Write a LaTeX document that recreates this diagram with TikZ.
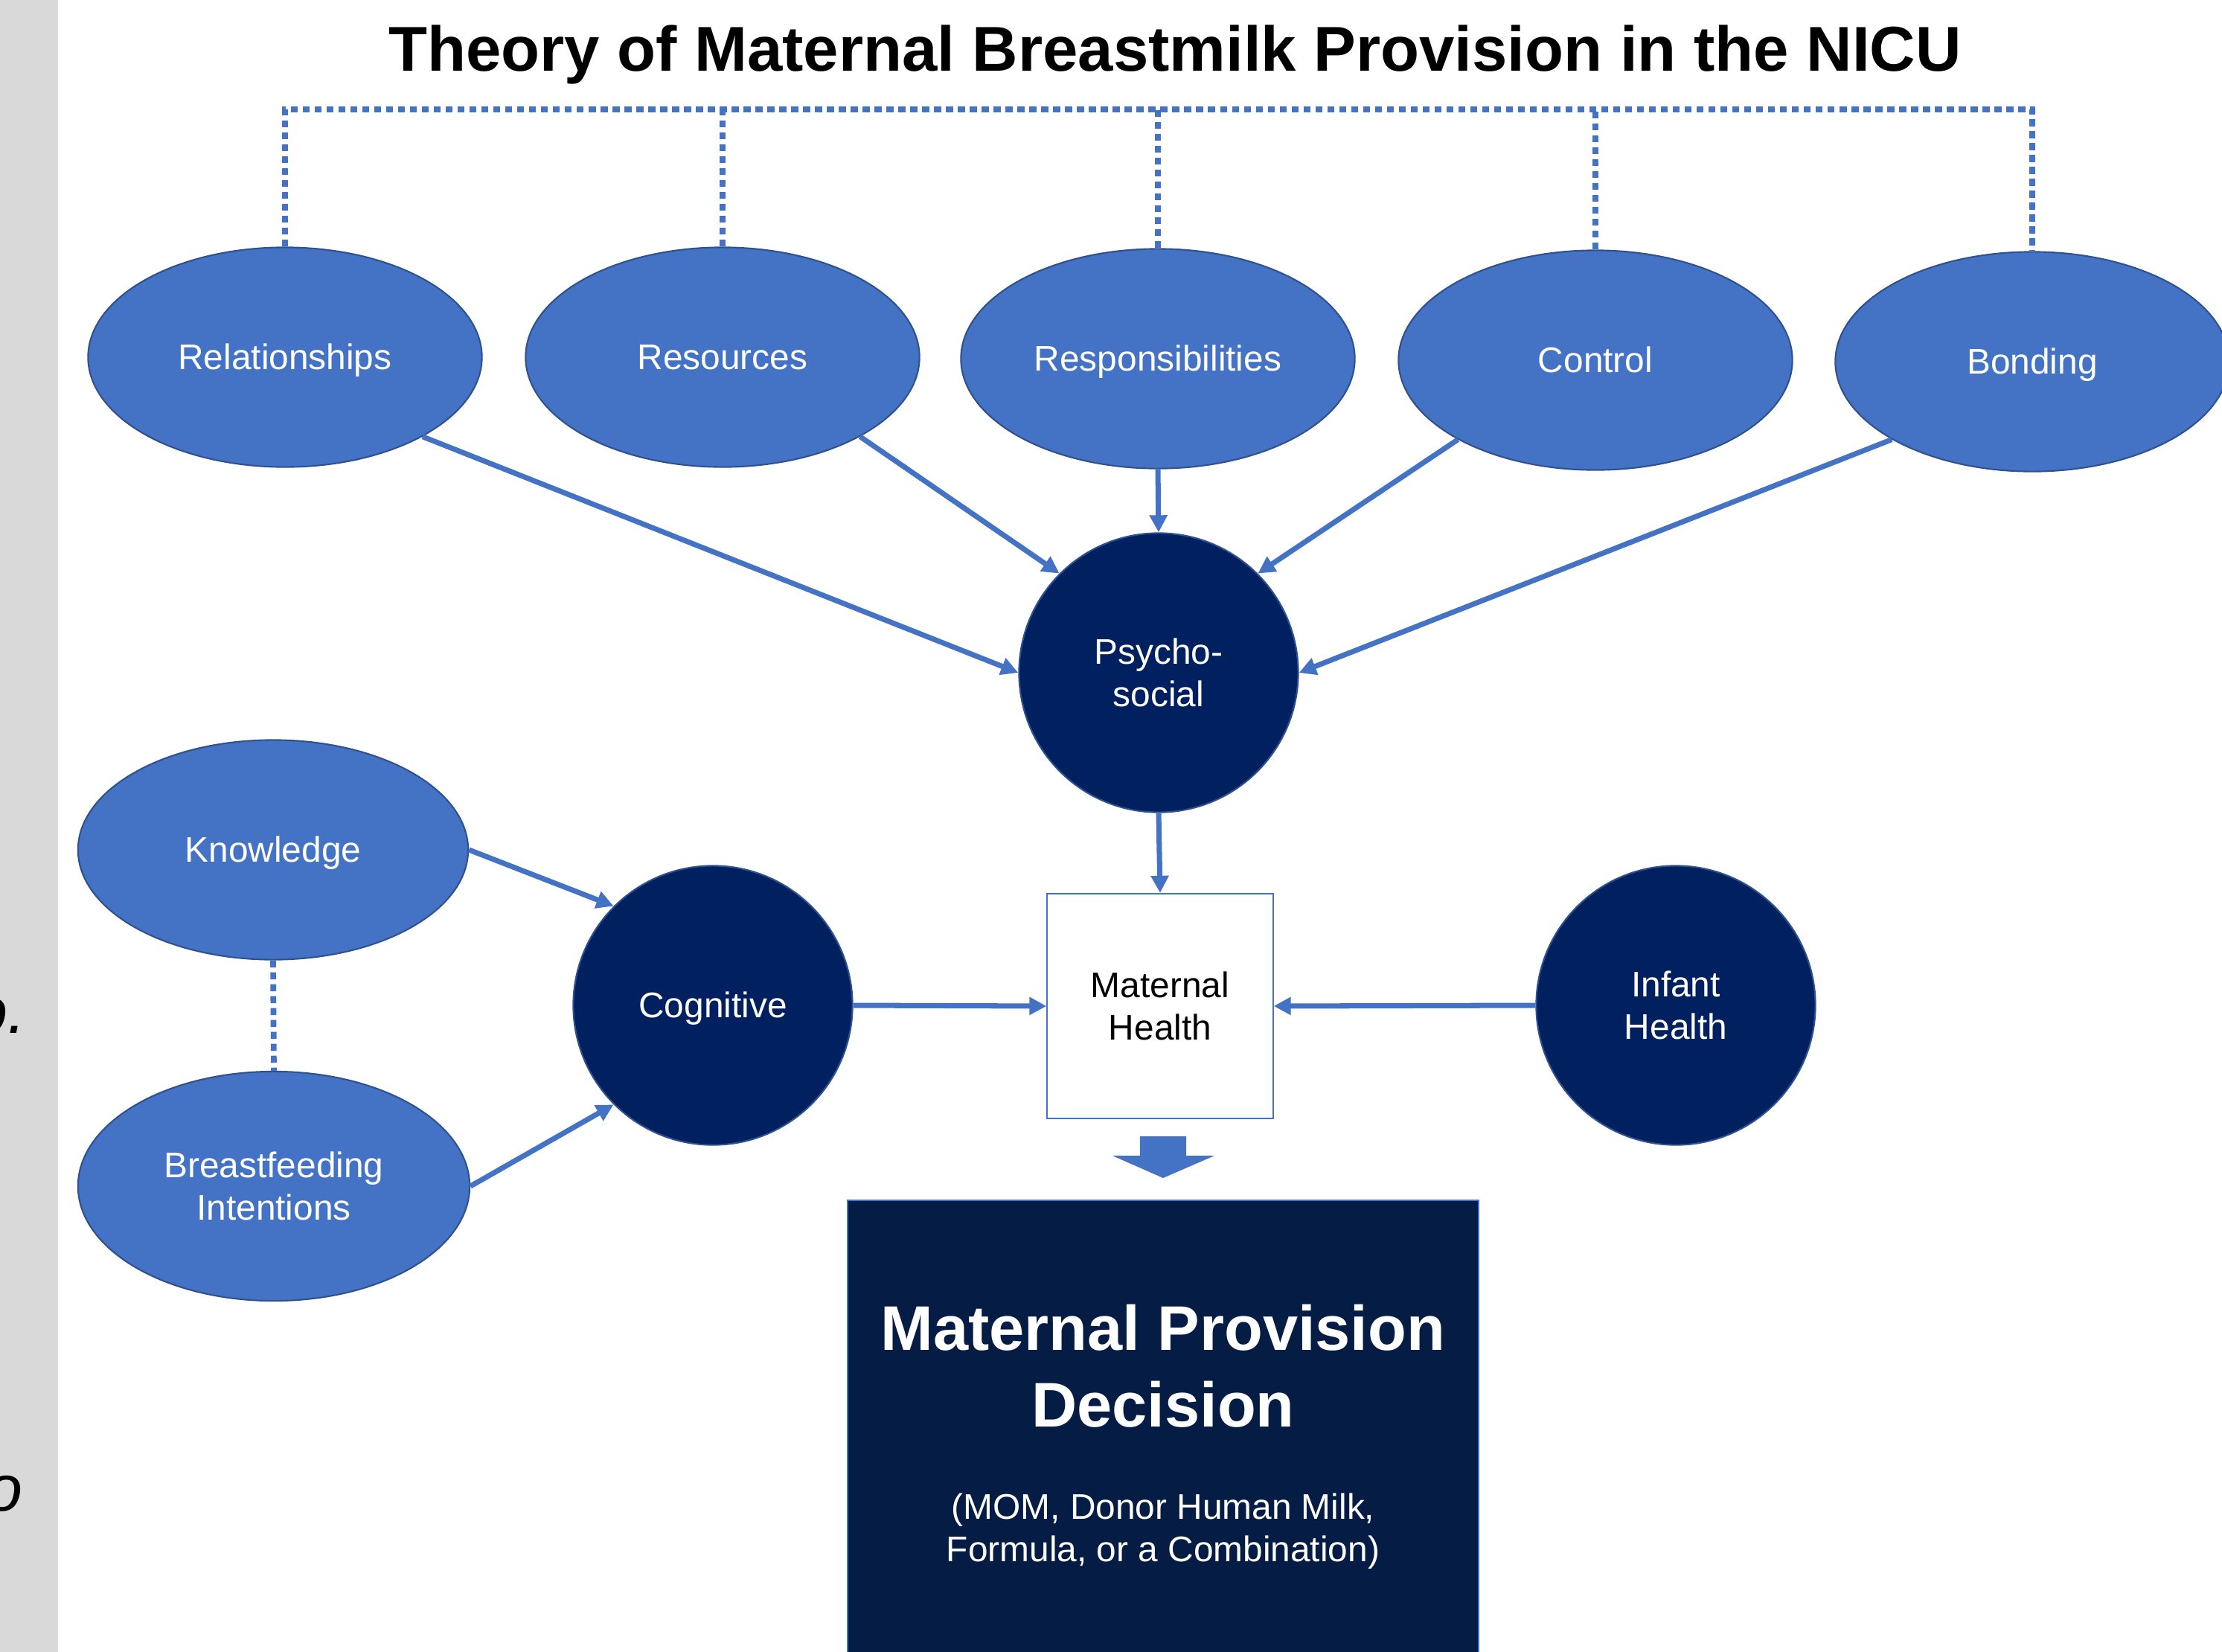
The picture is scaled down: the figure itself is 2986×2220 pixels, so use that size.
\documentclass[tikz,border=0pt]{standalone}
\usepackage{fontspec}
\setmainfont{Liberation Sans}
\usetikzlibrary{arrows.meta,shapes.geometric}
\definecolor{eblue}{HTML}{4472C4}
\definecolor{eborder}{HTML}{2F528F}
\definecolor{navy}{HTML}{002060}
\definecolor{decnavy}{HTML}{051D45}
\definecolor{bargray}{HTML}{D9D9D9}
\begin{document}
\begin{tikzpicture}[x=0.01cm,y=-0.01cm,
  lbl/.style={font=\fontsize{13.6}{16.2}\selectfont, align=center},
  oneline/.style={text height=0.97em, text depth=0.03em},
  oval/.style={ellipse, fill=eblue, draw=eborder, line width=0.6pt, text=white,
               inner sep=0pt, minimum width=5.29cm, minimum height=2.95cm, lbl},
  disc/.style={circle, fill=navy, draw=eborder, line width=0.6pt, text=white,
               inner sep=0pt, minimum size=3.75cm, lbl},
  conn/.style={draw=eblue, line width=2pt, -{Triangle[length=0.23cm,width=0.23cm]}},
  dotline/.style={draw=eblue, line width=2.2pt, dash pattern=on 0.095cm off 0.065cm},
  frag/.style={font=\fontsize{25}{30}\selectfont\itshape, text=black, inner sep=0pt, anchor=base east},
]
\useasboundingbox (0,0) rectangle (2986,2220);
\clip (0,0) rectangle (2986,2220);

% left grey strip with cut-off text
\fill[bargray] (0,0) rectangle (78,2220);
\node[frag] (fragA) at (36,1388) {o.};
\node[frag] (fragB) at (31,2030) {o};

% title
\node[font=\fontsize{24.2}{29}\selectfont\bfseries, anchor=base, inner sep=0pt] (title)
  at (1579,95) {Theory of Maternal Breastmilk Provision in the NICU};

% top ellipses
\node[oval, oneline] (rel)  at (383,480)  {Relationships};
\node[oval, oneline] (res)  at (971,480)  {Resources};
\node[oval, oneline] (resp) at (1556,482) {Responsibilities};
\node[oval, oneline] (ctl)  at (2144,484) {Control};
\node[oval, oneline] (bond) at (2731,486) {Bonding};

% dotted bracket
\coordinate (bar) at (0,147);
\draw[dotline] (rel.north) -- (rel.north |- bar) -- (bond.north |- bar) -- (bond.north);
\draw[dotline] (res.north) -- (res.north |- bar);
\draw[dotline] (resp.north) -- (resp.north |- bar);
\draw[dotline] (ctl.north) -- (ctl.north |- bar);

% circles
\node[disc] (psy) at (1557,904)  {Psycho-\\social};
\node[disc, oneline] (cog) at (958,1351)  {Cognitive};
\node[disc] (inf) at (2252,1351) {Infant\\Health};

% left ellipses
\node[oval, oneline, minimum width=5.24cm, minimum height=2.95cm] (know) at (367,1142) {Knowledge};
\node[oval, minimum width=5.26cm, minimum height=3.08cm] (bfi) at (368,1594) {Breastfeeding\\Intentions};
\draw[dotline] (know.south) -- (bfi.north);

% maternal health box
\node[draw=eblue, line width=0.6pt, fill=white, minimum width=3.03cm, minimum height=3.02cm,
      inner sep=0pt, lbl, text=black] (mh) at (1559,1352) {Maternal\\Health};

% decision box
\node[draw=eblue, line width=0.6pt, fill=decnavy, minimum width=8.48cm, minimum height=6.6cm,
      inner sep=0pt, anchor=north] (dec) at (1563,1612) {};
\node[font=\fontsize{24.1}{29}\selectfont\bfseries, text=white, anchor=base, inner sep=0pt] (decA)
  at (1563,1814) {Maternal Provision};
\node[font=\fontsize{24.1}{29}\selectfont\bfseries, text=white, anchor=base, inner sep=0pt] (decB)
  at (1563,1917) {Decision};
\node[lbl, text=white, anchor=base, inner sep=0pt] (subA) at (1563,2041) {(MOM, Donor Human Milk,};
\node[lbl, text=white, anchor=base, inner sep=0pt] (subB) at (1563,2098) {Formula, or a Combination)};

% block arrow
\coordinate (ba) at (1563,1527);
\fill[eblue] ([xshift=-0.31cm]ba) -- ([xshift=0.31cm]ba) -- ([xshift=0.31cm,yshift=-0.26cm]ba)
  -- ([xshift=0.69cm,yshift=-0.26cm]ba) -- ([yshift=-0.56cm]ba)
  -- ([xshift=-0.68cm,yshift=-0.26cm]ba) -- ([xshift=-0.31cm,yshift=-0.26cm]ba) -- cycle;

% connectors
\draw[conn] (rel.-30) -- (psy.180);
\draw[conn] (res.-30) -- (psy.135);
\draw[conn] (resp.south) -- (psy.north);
\draw[conn] (ctl.210) -- (psy.45);
\draw[conn] (bond.209) -- (psy.0);
\draw[conn] (psy.south) -- (mh.north);
\draw[conn] (know.east) -- (cog.135);
\draw[conn] (bfi.east) -- (cog.225);
\draw[conn] (cog.east) -- (mh.west);
\draw[conn] (inf.west) -- (mh.east);
\end{tikzpicture}
\end{document}
